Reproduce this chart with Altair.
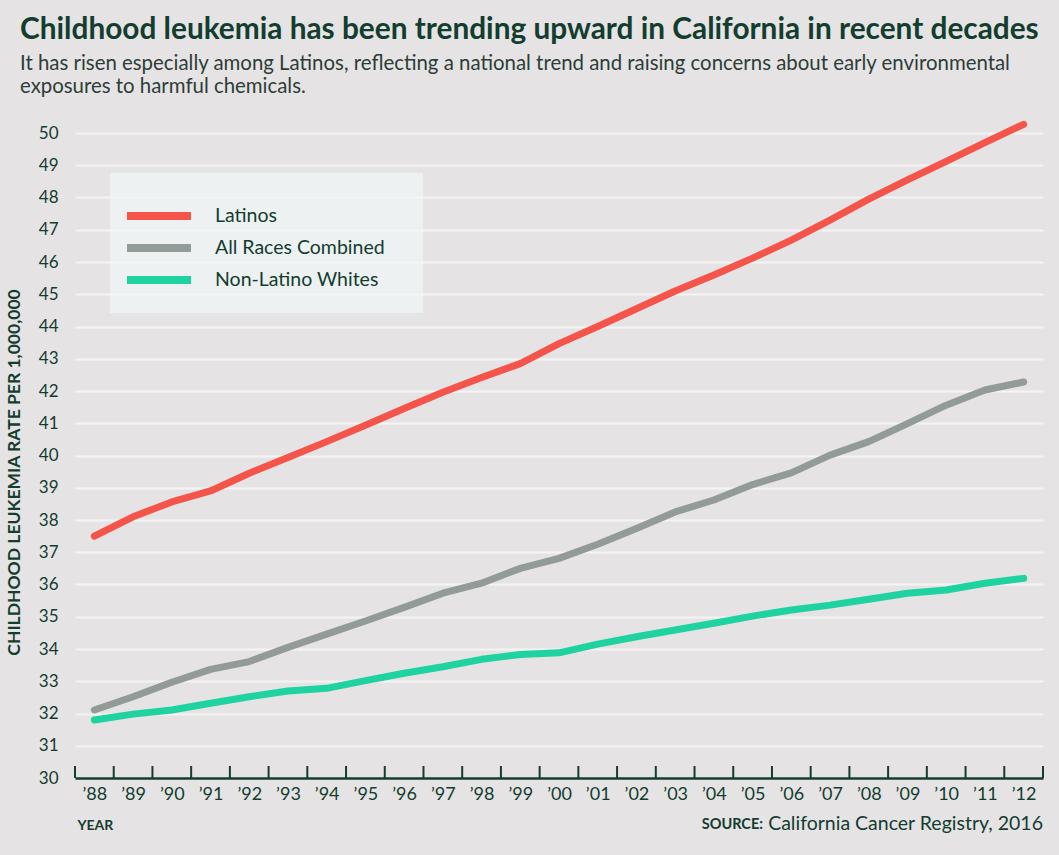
import altair as alt
import pandas as pd

years = list(range(1988, 2013))
latinos = [37.50, 38.10, 38.56, 38.90, 39.45, 39.94, 40.43, 40.94, 41.46, 41.96,
           42.42, 42.85, 43.47, 44.00, 44.55, 45.10, 45.60, 46.12, 46.68, 47.30,
           47.95, 48.55, 49.12, 49.70, 50.27]
all_races = [32.11, 32.52, 32.97, 33.37, 33.61, 34.05, 34.46, 34.87, 35.29, 35.73,
             36.04, 36.50, 36.81, 37.25, 37.74, 38.25, 38.62, 39.10, 39.46, 40.01,
             40.43, 40.99, 41.56, 42.03, 42.28]
non_latino_whites = [31.80, 31.98, 32.11, 32.32, 32.52, 32.70, 32.78, 33.02, 33.25, 33.45,
                     33.68, 33.83, 33.88, 34.15, 34.38, 34.59, 34.80, 35.02, 35.21, 35.36,
                     35.54, 35.73, 35.83, 36.04, 36.19]
series_names = ["Latinos", "All Races Combined", "Non-Latino Whites"]
series_colors = ["#f5544a", "#939b98", "#1fd3a1"]
y_ticks = list(range(30, 51))
tick_edges = [y - 0.5 for y in years] + [years[-1] + 0.5]

title_text = "Childhood leukemia has been trending upward in California in recent decades"
subtitle_lines = [
    "It has risen especially among Latinos, reflecting a national trend and raising concerns about early environmental",
    "exposures to harmful chemicals.",
]
y_title = "CHILDHOOD LEUKEMIA RATE PER 1,000,000"
x_title = "YEAR"
source_label = "SOURCE:"
source_text = "California Cancer Registry, 2016"

DARK = "#123d2f"
BG = "#e6e3e4"

rows = []
for name, vals in zip(series_names, [latinos, all_races, non_latino_whites]):
    for yr, v in zip(years, vals):
        rows.append({"year": yr, "series": name, "value": v})
df = pd.DataFrame(rows)

xscale = alt.Scale(domain=[years[0] - 0.5, years[-1] + 0.5], nice=False, zero=False)
xaxis = alt.Axis(values=years,
                 labelExpr="'\u2019' + substring(toString(datum.value), 2)",
                 ticks=False, grid=False, domain=True, domainColor=DARK, domainWidth=2.5,
                 labelFont="Lato", labelFontSize=18, labelColor=DARK, labelPadding=7,
                 labelFlush=False, labelOverlap=False,
                 title=x_title, titleAnchor="start", titleAlign="left", titleX=2, titleY=40,
                 titleFont="Lato", titleFontSize=14, titleFontWeight="bold", titleColor=DARK,
                 zindex=1)

box = alt.Chart(pd.DataFrame({"b": [0]})).mark_rect(color="#f1f6f5", opacity=0.72).encode(
    x=alt.value(35), x2=alt.value(348), y=alt.value(40), y2=alt.value(180)
)

lines = alt.Chart(df).mark_line(strokeWidth=7, strokeCap="round", strokeJoin="round").encode(
    x=alt.X("year:Q", scale=xscale, axis=xaxis),
    y=alt.Y("value:Q", scale=alt.Scale(domain=[30, 50], nice=False, zero=False),
            axis=alt.Axis(values=y_ticks, ticks=False, domain=False,
                          gridColor="#f4f4f4", gridWidth=2,
                          labelFont="Lato", labelFontSize=17, labelColor=DARK, labelPadding=17,
                          title=y_title, titleFont="Lato", titleFontSize=17.5, titleFontWeight="bold",
                          titleColor=DARK, titleX=-61, titleY=339, titleAngle=-90,
                          titleAlign="center", titleBaseline="middle")),
    color=alt.Color("series:N", sort=series_names,
                    scale=alt.Scale(domain=series_names, range=series_colors),
                    legend=alt.Legend(orient="none", legendX=48, legendY=71, title=None,
                                      padding=0,
                                      symbolType="M-1,0L7,0", symbolStrokeWidth=8, symbolSize=256,
                                      labelFont="Lato", labelFontSize=19.5, labelColor=DARK,
                                      labelLimit=400, labelOffset=68, rowPadding=0)),
    order="year:Q",
)

tick_df = pd.DataFrame({"edge": tick_edges})
ticks = alt.Chart(tick_df).mark_rule(color=DARK, strokeWidth=2).encode(
    x=alt.X("edge:Q", scale=xscale, axis=xaxis),
    y=alt.value(645), y2=alt.value(633),
)

src1 = alt.Chart(pd.DataFrame({"t": [source_text]})).mark_text(
    align="right", baseline="middle", font="Lato", fontSize=19.5, color=DARK
).encode(text="t:N", x=alt.value(968), y=alt.value(691))

src2 = alt.Chart(pd.DataFrame({"t": [source_label]})).mark_text(
    align="right", baseline="middle", font="Lato", fontSize=14.5, fontWeight="bold", color=DARK
).encode(text="t:N", x=alt.value(688), y=alt.value(692))

chart = alt.layer(box, lines, ticks, src1, src2).properties(
    width=968, height=645,
    autosize=alt.AutoSizeParams(type="none"),
    padding={"left": 75, "top": 133, "right": 16, "bottom": 77},
    title=alt.Title(text=title_text, subtitle=subtitle_lines, anchor="start", frame="group",
                    dx=-55, offset=23, font="Lato", fontSize=29.8, fontWeight="bold", color=DARK,
                    subtitleFont="Lato", subtitleFontSize=20.4, subtitleColor="#2d3d37",
                    subtitleLineHeight=23, subtitlePadding=10),
).configure(background=BG).configure_view(stroke=None)

chart.save("out.html", embed_options={"renderer": "svg", "actions": False})
